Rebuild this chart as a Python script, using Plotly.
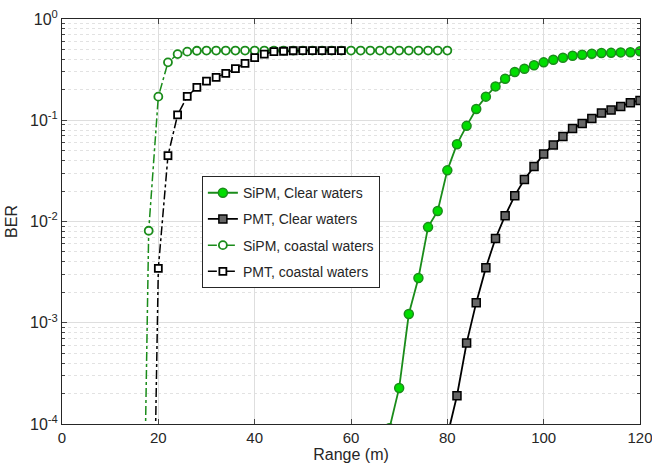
import plotly.graph_objects as go

# SiPM / PMT, clear waters
range_sipm_clear = [68, 70, 72, 74, 76, 78, 80, 82, 84, 86, 88, 90, 92, 94, 96, 98,
                    100, 102, 104, 106, 108, 110, 112, 114, 116, 118, 120]
ber_sipm_clear = [9.1e-5, 2.27e-4, 1.22e-3, 2.77e-3, 8.8e-3, 1.27e-2, 3.2e-2, 5.8e-2,
                  8.8e-2, 0.129, 0.171, 0.216, 0.257, 0.30, 0.323, 0.349, 0.373, 0.396,
                  0.415, 0.434, 0.444, 0.454, 0.461, 0.463, 0.468, 0.47, 0.48]

range_pmt_clear = [80, 82, 84, 86, 88, 90, 92, 94, 96, 98, 100, 102, 104, 106, 108,
                   110, 112, 114, 116, 118, 120]
ber_pmt_clear = [7.6e-5, 1.9e-4, 6.3e-4, 1.58e-3, 3.5e-3, 6.8e-3, 1.14e-2, 1.8e-2,
                 2.6e-2, 3.5e-2, 4.65e-2, 5.7e-2, 6.9e-2, 8.3e-2, 9.3e-2, 0.104,
                 0.118, 0.126, 0.137, 0.149, 0.157]

# coastal waters
range_sipm_coast = list(range(16, 82, 2))
ber_sipm_coast = [1e-8, 8.1e-3, 0.171, 0.373, 0.45, 0.476, 0.486] + [0.488] * 26

range_pmt_coast = list(range(18, 60, 2))
ber_pmt_coast = [1e-8, 3.45e-3, 4.47e-2, 0.113, 0.172, 0.211, 0.243, 0.265, 0.29,
                 0.323, 0.365, 0.415, 0.45, 0.476, 0.48, 0.486, 0.488, 0.488, 0.488,
                 0.488, 0.488]

x_ticks = [0, 20, 40, 60, 80, 100, 120]
y_ticks = [1e-4, 1e-3, 1e-2, 1e-1, 1]
y_ticktext = ["10<sup>-4</sup>", "10<sup>-3</sup>", "10<sup>-2</sup>", "10<sup>-1</sup>", "10<sup>0</sup>"]
y_minor = [k * 10 ** e for e in range(-4, 0) for k in range(2, 10)]

green_line = "#1a8c1a"
green_fill = "#00dd00"

fig = go.Figure()
fig.add_trace(go.Scatter(x=range_sipm_clear, y=ber_sipm_clear, mode="lines+markers",
                         name="SiPM, Clear waters", legendgroup="a",
                         line=dict(color=green_line, width=1.8),
                         marker=dict(symbol="circle", size=9, color=green_fill,
                                     line=dict(color=green_line, width=1.5))))
fig.add_trace(go.Scatter(x=range_pmt_clear, y=ber_pmt_clear, mode="lines+markers",
                         name="PMT, Clear waters", legendgroup="b",
                         line=dict(color="black", width=1.8),
                         marker=dict(symbol="square", size=8, color="#666666",
                                     line=dict(color="black", width=1.5))))
fig.add_trace(go.Scatter(x=range_sipm_coast, y=ber_sipm_coast, mode="lines+markers",
                         name="SiPM, coastal waters", legendgroup="c",
                         line=dict(color=green_line, width=1.5, dash="dashdot"),
                         marker=dict(symbol="circle", size=8, color="white",
                                     line=dict(color=green_line, width=1.8))))
fig.add_trace(go.Scatter(x=range_pmt_coast, y=ber_pmt_coast, mode="lines+markers",
                         name="PMT, coastal waters", legendgroup="d",
                         line=dict(color="black", width=1.5, dash="dashdot"),
                         marker=dict(symbol="square", size=7, color="white",
                                     line=dict(color="black", width=1.8))))

axis_font = dict(family="Liberation Sans, Arial, sans-serif", size=16, color="#262626")

fig.update_layout(
    width=652, height=468,
    margin=dict(l=62, r=12, t=19, b=44),
    paper_bgcolor="white", plot_bgcolor="white",
    font=axis_font,
    legend=dict(x=0.242, y=0.612, xanchor="left", yanchor="top",
                bgcolor="white", bordercolor="#262626", borderwidth=1,
                font=dict(size=14, color="#262626"), tracegroupgap=5,
                itemwidth=30),
    xaxis=dict(range=[0, 120], tickvals=x_ticks, ticks="inside", ticklen=5,
               showline=True, linecolor="#262626", linewidth=1, mirror="ticks",
               showgrid=True, gridcolor="#dedede", gridwidth=1, zeroline=False,
               automargin=False, tickfont=dict(size=15), ticklabeloverflow="allow",
               title=dict(text="Range (m)", standoff=2, font=dict(size=16))),
    yaxis=dict(type="log", range=[-4, 0], tickvals=y_ticks, ticktext=y_ticktext,
               ticks="inside", ticklen=5,
               showline=True, linecolor="#262626", linewidth=1, mirror="allticks",
               showgrid=True, gridcolor="#dedede", gridwidth=1, zeroline=False,
               automargin=False, tickfont=dict(size=16), ticklabeloverflow="allow",
               minor=dict(tickvals=y_minor, ticks="inside", ticklen=3,
                          showgrid=True, gridcolor="#e2e2e2", griddash="dot"),
               title=dict(text="BER", standoff=8, font=dict(size=16))),
)

# drop the default page margin so the figure sits at the window's corner
fig.write_html("out.html", config={"displayModeBar": False},
               post_script="document.body.style.margin='0';")
